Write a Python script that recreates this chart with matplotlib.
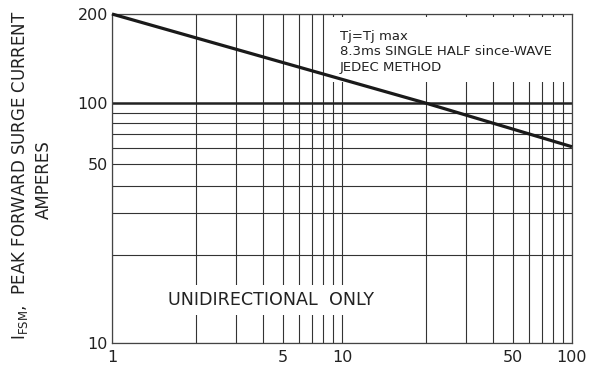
import matplotlib
matplotlib.use("Agg")
import matplotlib.pyplot as plt
from matplotlib.patches import Rectangle
from matplotlib.ticker import FixedLocator, FuncFormatter
import numpy as np

# surge curve
cycles = [1, 20, 100]
surge_amps = [200, 100, 61]

x_grid = [1, 2, 3, 4, 5, 6, 7, 8, 9, 10, 20, 30, 40, 50, 60, 70, 80, 90, 100]
x_labels = [1, 5, 10, 50, 100]
y_grid = [10, 20, 30, 40, 50, 60, 70, 80, 90, 100, 200]
y_labels = [10, 50, 100, 200]

# the printed log paper is not a true log scale, so map grid values
# to where the datasheet actually drew them
dec = [0, .367, .541, .656, .742, .812, .870, .918, .962]
x_pos = [d / 2 for d in dec] + [0.5 + d / 2 for d in dec] + [1.0]
y_pos = [0, .2666, .396, .478, .543, .592, .634, .670, .700, .7286, 1.0]


def make_scale(vals, pos):
    lv = np.log10(vals)

    def fwd(v):
        v = np.clip(np.asarray(v, dtype=float), 1e-9, None)
        return np.interp(np.log10(v), lv, pos)

    def inv(p):
        return 10 ** np.interp(np.asarray(p, dtype=float), pos, lv)
    return fwd, inv


fig = plt.figure(figsize=(6.04, 3.69), dpi=100)
ax = fig.add_axes([112 / 604, 26 / 369, 460 / 604, 329 / 369])

ax.set_xscale('function', functions=make_scale(x_grid, x_pos))
ax.set_yscale('function', functions=make_scale(y_grid, y_pos))
ax.set_xlim(1, 100)
ax.set_ylim(10, 200)

lab = lambda keep: FuncFormatter(lambda v, p: '%g' % v if round(v) in keep else '')
ax.xaxis.set_major_locator(FixedLocator(x_grid))
ax.yaxis.set_major_locator(FixedLocator(y_grid))
ax.xaxis.set_major_formatter(lab(x_labels))
ax.yaxis.set_major_formatter(lab(y_labels))
ax.tick_params(axis='both', length=0, labelsize=11.5, colors='#222222')
ax.tick_params(axis='x', pad=5)
ax.tick_params(axis='y', pad=3)

ax.grid(True, color='#333333', linewidth=0.8)
for t, v in zip(ax.yaxis.get_major_ticks(), y_grid):
    if v == 100:
        t.gridline.set_linewidth(1.8)
        t.gridline.set_color('#222222')

for s in ax.spines.values():
    s.set_color('#444444')
    s.set_linewidth(0.9)

# white patch behind the note, as on the datasheet
ax.add_patch(Rectangle((0.472, 0.793), 0.524, 0.198, transform=ax.transAxes,
                       facecolor='white', edgecolor='none', zorder=2.5))
ax.text(0.4957, 0.952, 'Tj=Tj max\n8.3ms SINGLE HALF since-WAVE\nJEDEC METHOD',
        transform=ax.transAxes, ha='left', va='top', fontsize=9.5,
        linespacing=1.25, color='#222222', zorder=3)

ax.text(0.3467, 0.1307, 'UNIDIRECTIONAL  ONLY', transform=ax.transAxes,
        ha='center', va='center', fontsize=12.6, color='#222222', zorder=3,
        bbox=dict(facecolor='white', edgecolor='none', pad=4))

ax.plot(cycles, surge_amps, color='#1a1a1a', linewidth=2.3, zorder=4,
        solid_capstyle='butt', clip_on=False)

fig.text(20 / 604, 0.5244, r'I$_{\mathregular{FSM}}$,  PEAK FORWARD SURGE CURRENT',
         rotation=90, ha='center', va='center', fontsize=12, color='#222222')
fig.text(44 / 604, 0.512, 'AMPERES', rotation=90, ha='center', va='center',
         fontsize=12, color='#222222')

fig.savefig('out.png', dpi=100)
